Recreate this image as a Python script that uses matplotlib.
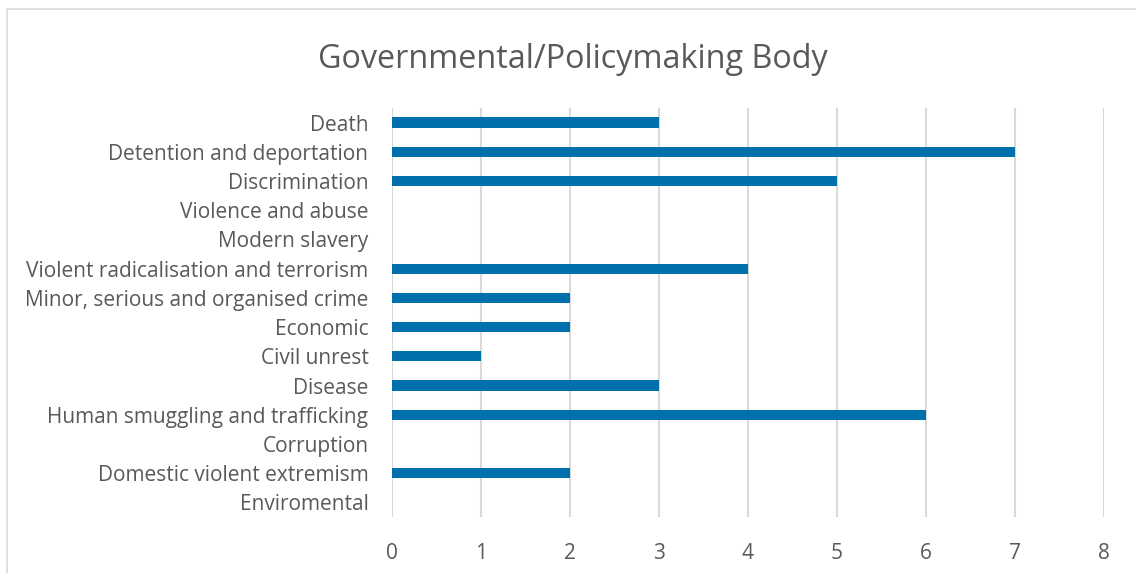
import matplotlib
matplotlib.use("Agg")
import matplotlib.pyplot as plt
from matplotlib.patches import Rectangle

categories = [
    "Death",
    "Detention and deportation",
    "Discrimination",
    "Violence and abuse",
    "Modern slavery",
    "Violent radicalisation and terrorism",
    "Minor, serious and organised crime",
    "Economic",
    "Civil unrest",
    "Disease",
    "Human smuggling and trafficking",
    "Corruption",
    "Domestic violent extremism",
    "Enviromental",
]
counts = [3, 7, 5, 0, 0, 4, 2, 2, 1, 3, 6, 0, 2, 0]
x_ticks = [0, 1, 2, 3, 4, 5, 6, 7, 8]
title = "Governmental/Policymaking Body"

W, H = 1136, 573
plt.rcParams["font.family"] = ["Open Sans", "DejaVu Sans"]
text_color = "#595959"
grid_color = "#D9D9D9"
bar_color = "#0070AC"

fig = plt.figure(figsize=(W / 100, H / 100), dpi=100)
fig.patch.set_facecolor("white")

# chart-area frame (runs off the right and bottom edges)
fig.patches.append(Rectangle((7 / W, -0.1), 1.2, 1 - 9 / H + 0.1,
                             transform=fig.transFigure, fill=False,
                             edgecolor=grid_color, linewidth=1.2))

left, right, top, bottom = 392, 1104, 108, 517
ax = fig.add_axes([left / W, 1 - bottom / H, (right - left) / W, (bottom - top) / H])

ypos = list(range(len(categories)))
ax.barh(ypos, counts, height=0.35, color=bar_color, zorder=3)

ax.set_xlim(0, 8)
ax.set_ylim(len(categories) - 0.5, -0.5)
ax.set_xticks(x_ticks)
ax.set_yticks(ypos)
ax.set_yticklabels(categories)
ax.grid(axis="x", color=grid_color, linewidth=1.5, zorder=0)
ax.tick_params(axis="both", length=0, colors=text_color, labelsize=15)
ax.tick_params(axis="y", pad=17)
ax.tick_params(axis="x", pad=19)
for s in ax.spines.values():
    s.set_visible(False)

fig.text(573 / W, 1 - 59 / H, title, ha="center", va="center",
         fontsize=23.3, color=text_color)

fig.savefig("out.png", dpi=100)
